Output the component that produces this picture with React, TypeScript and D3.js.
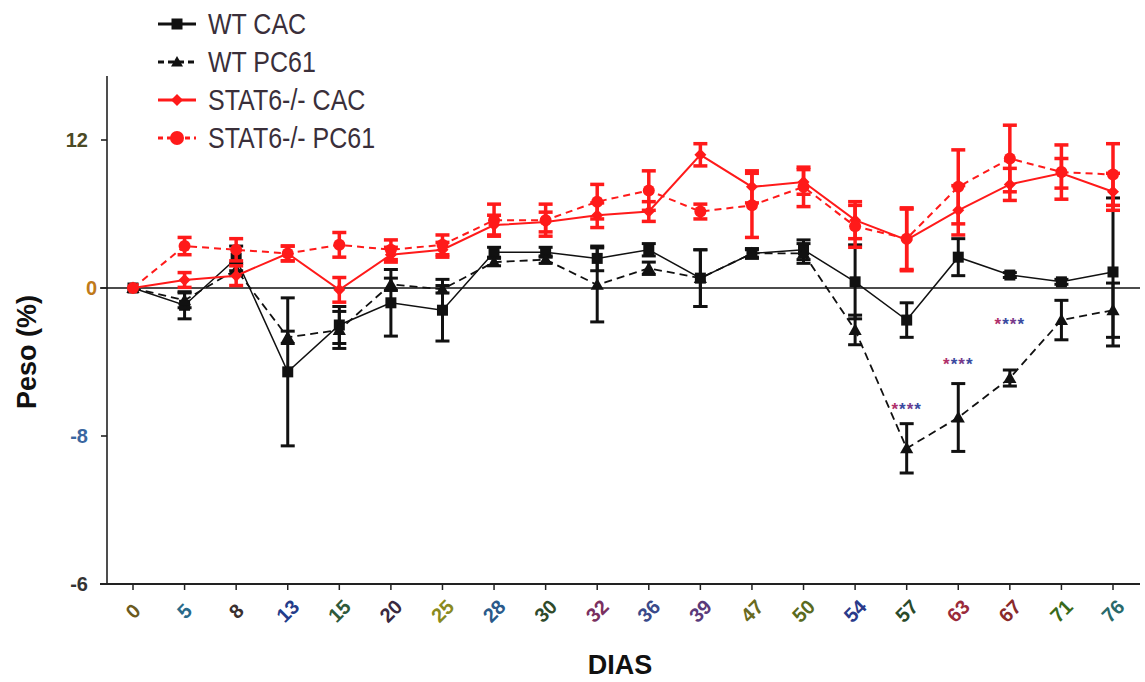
import React from "react";
import * as d3 from "d3";

const days = ["0","5","8","13","15","20","25","28","30","32","36","39","47","50","54","57","63","67","71","76"];

const wtCac = [0,-1.4,2.4,-6.8,-3.0,-1.2,-1.8,2.9,2.9,2.4,3.1,0.8,2.8,3.1,0.5,-2.6,2.5,1.05,0.5,1.3];
const wtCacErr = [0,1.1,1.0,6.0,1.5,2.7,2.5,0.4,0.4,1.0,0.5,2.3,0.4,0.8,3.0,1.4,1.5,0.2,0.2,6.0];

const wtPc61 = [0,-1.0,1.5,-4.0,-3.4,0.3,-0.1,2.1,2.3,0.25,1.6,0.8,2.8,2.8,-3.4,-13.0,-10.5,-7.3,-2.6,-1.8];
const wtPc61Err = [0,0.6,0.5,0.5,1.5,0.5,0.3,0.3,0.3,3.0,0.5,2.3,0.3,0.8,1.2,2.0,2.75,0.65,1.6,2.2];

const statCac = [0,0.65,1.0,2.8,-0.15,2.7,3.1,5.1,5.35,5.9,6.2,10.8,8.2,8.6,5.5,3.9,6.3,8.4,9.3,7.8];
const statCacErr = [0,0.6,0.8,0.6,1.0,0.6,0.6,0.8,0.8,1.0,0.8,0.9,1.3,1.0,1.5,2.5,2.0,1.3,1.2,1.5];

const statPc61 = [0,3.4,3.1,2.8,3.5,3.1,3.5,5.5,5.5,7.0,7.9,6.2,6.7,8.2,5.0,4.0,8.2,10.5,9.4,9.2];
const statPc61Err = [0,0.7,0.9,0.6,1.0,0.8,0.8,1.3,1.3,1.4,1.6,0.6,2.6,1.6,1.7,2.5,3.0,2.7,2.2,2.5];

const yTickValues = [12, 0, -12, -24];
const yTickLabels = ["12", "0", "-8", "-6"];
const yTickColors = ["#4b4a25", "#c07a1a", "#3a66a0", "#333333"];

const xLabelColors = ["#6b5a20","#2a6a8a","#3a3030","#233c8a","#2f5a3a","#3a2a40","#8a8a20","#2a5a8a","#2f4a2a","#7a3060","#3a4a8a","#5a3a7a","#6a6a20","#5a6a20","#2a3a8a","#2a4a2a","#9a2a3a","#8a2a2a","#3a6a1a","#2a6a6a"];

const starDays = ["57", "63", "67"];
const starValues = [-9.65, -6.0, -2.75];

const legendLabels = ["WT CAC", "WT PC61", "STAT6-/- CAC", "STAT6-/- PC61"];

const W = 1145, H = 682;

export default function App() {
  const x = d3.scalePoint<string>().domain(days).range([133, 1113]);
  const y = d3.scaleLinear().domain([12, 0]).range([140, 288]);
  const axisX = 107;
  const bottom = y(-24);
  const line = d3.line<number>().x((_, i) => x(days[i]) as number).y((v) => y(v));

  const errBars = (vals: number[], errs: number[], color: string, sw: number, cap: number, key: string) =>
    vals.map((v, i) => {
      if (errs[i] <= 0) return null;
      const cx = x(days[i]) as number;
      const y1 = y(v + errs[i]), y2 = y(v - errs[i]);
      return (
        <g key={key + i} stroke={color} strokeWidth={sw}>
          <line x1={cx} x2={cx} y1={y1} y2={y2} />
          <line x1={cx - cap} x2={cx + cap} y1={y1} y2={y1} />
          <line x1={cx - cap} x2={cx + cap} y1={y2} y2={y2} />
        </g>
      );
    });

  const square = (cx: number, cy: number, s: number, fill: string, k: string) => (
    <rect key={k} x={cx - s / 2} y={cy - s / 2} width={s} height={s} fill={fill} />
  );
  const triangle = (cx: number, cy: number, s: number, fill: string, k: string) => (
    <path key={k} d={`M${cx},${cy - s * 0.6}L${cx + s * 0.6},${cy + s * 0.45}L${cx - s * 0.6},${cy + s * 0.45}Z`} fill={fill} />
  );
  const diamond = (cx: number, cy: number, s: number, fill: string, k: string) => (
    <path key={k} d={`M${cx},${cy - s}L${cx + s},${cy}L${cx},${cy + s}L${cx - s},${cy}Z`} fill={fill} />
  );
  const circle = (cx: number, cy: number, r: number, fill: string, k: string) => (
    <circle key={k} cx={cx} cy={cy} r={r} fill={fill} />
  );

  const red = "#ff1a1a";
  const legendY = [24, 62, 100, 138];

  return (
    <svg width={W} height={H} style={{ position: "absolute", left: 0, top: 0, background: "#fff" }} fontFamily="Liberation Sans, Arial, sans-serif">
      {/* axes */}
      <line x1={axisX} x2={axisX} y1={76} y2={bottom} stroke="#222" strokeWidth={1.6} />
      <line x1={axisX - 7} x2={1140} y1={bottom} y2={bottom} stroke="#222" strokeWidth={1.8} />
      <line x1={axisX - 7} x2={1140} y1={y(0)} y2={y(0)} stroke="#111" strokeWidth={1.6} />
      {yTickValues.map((v, i) => (
        <g key={"yt" + i}>
          <line x1={axisX - 6} x2={axisX} y1={y(v)} y2={y(v)} stroke="#222" strokeWidth={1.6} />
          <text x={i === 1 ? 97 : 88} y={y(v) + 7} textAnchor="end" fontSize={20} fontWeight="bold" fill={yTickColors[i]}>{yTickLabels[i]}</text>
        </g>
      ))}
      {days.map((d, i) => (
        <g key={"xt" + d}>
          <line x1={x(d)} x2={x(d)} y1={bottom} y2={bottom + 6} stroke="#222" strokeWidth={1.5} />
          <g transform={`translate(${x(d)},611)`}>
            <g transform="rotate(-45)">
              <text x={0} y={7} textAnchor="middle" fontSize={20} fontWeight="bold" fill={xLabelColors[i]}>{d}</text>
            </g>
          </g>
        </g>
      ))}
      <text transform="translate(36,352) rotate(-90)" textAnchor="middle" fontSize={27} fontWeight="bold" fill="#111">Peso (%)</text>
      <text x={620} y={674} textAnchor="middle" fontSize={27} fontWeight="bold" fill="#111">DIAS</text>

      {/* WT CAC */}
      <path d={line(wtCac) || ""} fill="none" stroke="#111" strokeWidth={1.5} />
      {errBars(wtCac, wtCacErr, "#111", 3, 7, "ewc")}
      {wtCac.map((v, i) => square(x(days[i]) as number, y(v), 11, "#111", "mwc" + i))}

      {/* WT PC61 */}
      <path d={line(wtPc61) || ""} fill="none" stroke="#111" strokeWidth={1.8} strokeDasharray="8,5" />
      {errBars(wtPc61, wtPc61Err, "#111", 3, 7, "ewp")}
      {wtPc61.map((v, i) => triangle(x(days[i]) as number, y(v), 11, "#111", "mwp" + i))}

      {/* STAT6 CAC */}
      <path d={line(statCac) || ""} fill="none" stroke={red} strokeWidth={2} />
      {errBars(statCac, statCacErr, red, 3.5, 7, "esc")}
      {statCac.map((v, i) => diamond(x(days[i]) as number, y(v), 6, red, "msc" + i))}

      {/* STAT6 PC61 */}
      <path d={line(statPc61) || ""} fill="none" stroke={red} strokeWidth={2} strokeDasharray="7,5" />
      {errBars(statPc61, statPc61Err, red, 3.5, 7, "esp")}
      {statPc61.map((v, i) => circle(x(days[i]) as number, y(v), 6, red, "msp" + i))}

      {/* significance */}
      {starDays.map((d, i) => (
        <text key={"st" + d} x={x(d)} y={y(starValues[i]) + 8} textAnchor="middle" fontSize={17} fontWeight="bold" letterSpacing={1}>
          <tspan fill="#b0306a">*</tspan><tspan fill="#3a4aa0">*</tspan><tspan fill="#7a3a8a">*</tspan><tspan fill="#3a4aa0">*</tspan>
        </text>
      ))}

      {/* legend */}
      {legendLabels.map((lab, i) => {
        const ly = legendY[i];
        const col = i < 2 ? "#111" : red;
        const dash = i === 1 ? "6,4" : i === 3 ? "5,4" : undefined;
        const cx = 177;
        return (
          <g key={"lg" + i}>
            <line x1={158} x2={196} y1={ly} y2={ly} stroke={col} strokeWidth={3} strokeDasharray={dash} />
            {i === 0 && square(cx, ly, 11, col, "ls0")}
            {i === 1 && triangle(cx, ly, 10, col, "ls1")}
            {i === 2 && diamond(cx, ly, 6, col, "ls2")}
            {i === 3 && circle(cx, ly, 7, col, "ls3")}
            <text transform={`translate(208,${ly + 10}) scale(1,1.15)`} fontSize={25} fill="#3a2f3a">{lab}</text>
          </g>
        );
      })}
    </svg>
  );
}
